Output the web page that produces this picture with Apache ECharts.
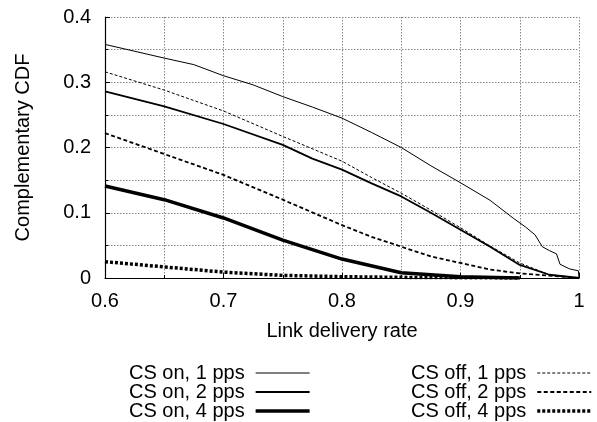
<!DOCTYPE html>
<html><head><meta charset="utf-8">
<script src="https://cdn.jsdelivr.net/npm/echarts@6/dist/echarts.min.js"></script>
<style>html,body{margin:0;padding:0;background:#fff}#c{width:597px;height:422px}</style>
</head><body><div id="c"></div>
<script>
const xTicks = ['0.6','0.7','0.8','0.9','1'];
const yTicks = ['0','0.1','0.2','0.3','0.4'];
const seriesNames = ['CS on, 1 pps','CS on, 2 pps','CS on, 4 pps','CS off, 1 pps','CS off, 2 pps','CS off, 4 pps'];

const onX1 = [0.6,0.65,0.675,0.7,0.725,0.75,0.775,0.8,0.825,0.85,0.875,0.9,0.925,0.945,0.955,0.963,0.969,0.975,0.981,0.984,0.992,0.9995,1.0];
const onY1 = [0.358,0.337,0.327,0.310,0.296,0.278,0.262,0.245,0.223,0.200,0.172,0.146,0.119,0.091,0.078,0.066,0.048,0.042,0.037,0.021,0.014,0.011,0.0];

const onX2 = [0.6,0.65,0.7,0.75,0.775,0.8,0.825,0.85,0.875,0.9,0.925,0.95,0.975,1.0];
const onY2 = [0.286,0.263,0.236,0.204,0.183,0.166,0.145,0.125,0.100,0.074,0.048,0.020,0.005,0.0];

const onX4 = [0.6,0.65,0.7,0.75,0.8,0.85,0.9,0.95];
const onY4 = [0.141,0.120,0.092,0.058,0.029,0.008,0.002,0.0];

const offX1 = [0.6,0.65,0.7,0.75,0.8,0.825,0.85,0.875,0.9,0.925,0.95,0.975,1.0];
const offY1 = [0.316,0.288,0.256,0.217,0.179,0.154,0.130,0.104,0.077,0.049,0.023,0.005,0.0];

const offX2 = [0.6,0.65,0.7,0.75,0.8,0.825,0.85,0.875,0.9,0.925,0.95,1.0];
const offY2 = [0.222,0.190,0.158,0.120,0.081,0.063,0.048,0.033,0.023,0.013,0.007,0.0];

const offX4 = [0.6,0.65,0.7,0.75,0.8,0.85,0.9,0.95];
const offY4 = [0.025,0.017,0.009,0.004,0.002,0.001,0.0005,0.0];

const pair = (xs, ys) => xs.map((x, i) => [x, ys[i]]);
const FONT = 'Liberation Sans';
const FS = 20;

const styles = [
  {width: 1, type: 'solid'},
  {width: 1.8, type: 'solid'},
  {width: 3.5, type: 'solid'},
  {width: 1, type: [3, 2]},
  {width: 1.8, type: [4, 2.5]},
  {width: 3.5, type: [3, 2]}
];
const datas = [pair(onX1,onY1), pair(onX2,onY2), pair(onX4,onY4), pair(offX1,offY1), pair(offX2,offY2), pair(offX4,offY4)];

const legendItems = seriesNames.map((n, i) => ({name: n, lineStyle: {width: styles[i].width, type: styles[i].type}}));

const legendCommon = {
  orient: 'vertical', align: 'right', top: 363, height: 100, padding: 0,
  itemWidth: 54, itemHeight: 10, itemGap: -1,
  itemStyle: {opacity: 0},
  textStyle: {fontFamily: FONT, fontSize: FS, color: '#000', lineHeight: 19, padding: [0, 6, 0, 0]}
};

const chart = echarts.init(document.getElementById('c'));
chart.setOption({
  animation: false,
  backgroundColor: '#fff',
  textStyle: {fontFamily: FONT},
  grid: {left: 105, right: 18, top: 17, bottom: 144},
  xAxis: {
    type: 'value', min: 0.6, max: 1, interval: 0.1,
    name: 'Link delivery rate', nameLocation: 'middle', nameGap: 43,
    nameTextStyle: {fontFamily: FONT, fontSize: FS, color: '#000'},
    axisLine: {show: true, lineStyle: {color: '#000', width: 1.2}},
    axisTick: {show: true, inside: true, length: 5, lineStyle: {color: '#000'}},
    minorTick: {show: true, splitNumber: 2, length: 3, lineStyle: {color: '#000'}},
    axisLabel: {fontFamily: FONT, fontSize: FS, color: '#000', margin: 13,
      formatter: v => xTicks[Math.round((v - 0.6) * 10)]},
    splitLine: {show: true, lineStyle: {color: '#888', type: [1.5, 1.5], width: 1}},
    minorSplitLine: {show: true, lineStyle: {color: '#888', type: [1.5, 1.5], width: 1}}
  },
  yAxis: {
    type: 'value', min: 0, max: 0.4, interval: 0.1,
    name: 'Complementary CDF', nameLocation: 'middle', nameGap: 72, nameRotate: 90,
    nameTextStyle: {fontFamily: FONT, fontSize: FS, color: '#000'},
    axisLine: {show: true, lineStyle: {color: '#000', width: 1.2}},
    axisTick: {show: true, inside: true, length: 5, lineStyle: {color: '#000'}},
    minorTick: {show: true, splitNumber: 2, length: 3, lineStyle: {color: '#000'}},
    axisLabel: {fontFamily: FONT, fontSize: FS, color: '#000', margin: 14,
      formatter: v => yTicks[Math.round(v * 10)]},
    splitLine: {show: true, lineStyle: {color: '#888', type: [1.5, 1.5], width: 1}},
    minorSplitLine: {show: true, lineStyle: {color: '#888', type: [1.5, 1.5], width: 1}}
  },
  legend: [
    Object.assign({}, legendCommon, {data: legendItems.slice(0,3), left: 129}),
    Object.assign({}, legendCommon, {data: legendItems.slice(3), left: 411})
  ],
  series: seriesNames.map((n, i) => ({
    name: n, type: 'line', data: datas[i], showSymbol: false, symbol: 'none',
    smooth: false, color: '#000',
    lineStyle: {color: '#000', width: styles[i].width, type: styles[i].type}
  }))
});
</script></body></html>
